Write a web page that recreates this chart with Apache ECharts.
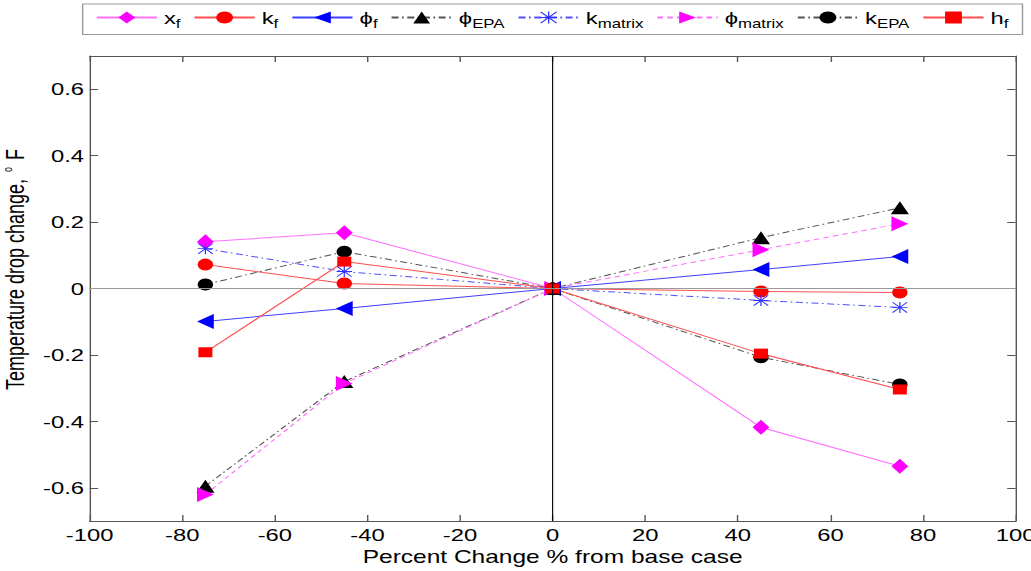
<!DOCTYPE html>
<html>
<head>
<meta charset="utf-8">
<script src="https://cdn.jsdelivr.net/npm/echarts@6/dist/echarts.min.js"></script>
<style>
html,body{margin:0;padding:0;overflow:hidden;background:#fff;}
#c{width:736px;height:571px;transform:scaleX(1.40082);transform-origin:0 0;}
</style>
</head>
<body>
<div id="c"></div>
<script>
// ---- data ----
const xValues = [-75, -45, 0, 45, 75];
const x_f        = [0.141, 0.168, 0, -0.418, -0.535];
const k_f        = [0.072, 0.015, 0, -0.009, -0.012];
const phi_f      = [-0.099, -0.060, 0, 0.057, 0.096];
const phi_EPA    = [-0.595, -0.280, 0, 0.153, 0.243];
const k_matrix   = [0.120, 0.051, 0, -0.036, -0.057];
const phi_matrix = [-0.620, -0.286, 0, 0.117, 0.195];
const k_EPA      = [0.012, 0.111, 0, -0.207, -0.289];
const h_f        = [-0.192, 0.081, 0, -0.196, -0.304];
const yTicks = [-0.6, -0.4, -0.2, 0, 0.2, 0.4, 0.6];
const xTicks = [-100, -80, -60, -40, -20, 0, 20, 40, 60, 80, 100];

const legendLabels = {
  'x_f': '{m|x}{s|f}',
  'k_f': '{m|k}{s|f}',
  'phi_f': '{m|\u03d5}{s|f}',
  'phi_EPA': '{m|\u03d5}{s|EPA}',
  'k_matrix': '{m|k}{s|matrix}',
  'phi_matrix': '{m|\u03d5}{s|matrix}',
  'k_EPA': '{m|k}{s|EPA}',
  'h_f': '{m|h}{s|f}'
};

const FONT = '"Liberation Sans", Arial, Helvetica, sans-serif';
const asterisk = 'path://M0 9.2H20V10.8H0Z M9.2 0H10.8V20H9.2Z M0 1.1L1.1 0L20 18.9L18.9 20Z M18.9 0L20 1.1L1.1 20L0 18.9Z';

function pts(arr){ return xValues.map((x,i)=>[x, arr[i]]); }

function mk(name, arr, symbol, size, rot, mcolor, lcolor, ltype){
  return {
    name: name, type: 'line', data: pts(arr),
    symbol: symbol, symbolSize: size, symbolRotate: rot,
    showAllSymbol: true,
    itemStyle: {color: mcolor, borderWidth: 0},
    lineStyle: {color: lcolor, width: 1, type: ltype},
    emphasis: {disabled: true},
    animation: false
  };
}

const dashDot = [5, 2.5, 1.2, 2.5];
const series = [
  {
    type: 'line', data: [], silent: true, animation: false,
    markLine: {
      silent: true, symbol: 'none', animation: false,
      label: {show: false},
      data: [
        {xAxis: 0, lineStyle: {color: '#000', width: 0.8, type: 'solid'}},
        {yAxis: 0, lineStyle: {color: '#999', width: 1, type: 'solid'}}
      ]
    }
  },
  mk('x_f', x_f, 'diamond', [12, 15], 0, '#ff00ff', '#ff70ff', 'solid'),
  mk('k_f', k_f, 'circle', [11, 12], 0, '#ff0000', '#ff5050', 'solid'),
  mk('phi_f', phi_f, 'triangle', [15, 12], 90, '#0000ff', '#4040ff', 'solid'),
  mk('phi_EPA', phi_EPA, 'triangle', [13, 13], 0, '#000000', '#555555', dashDot),
  mk('k_matrix', k_matrix, asterisk, [11, 11], 0, '#3030ff', '#5050ff', dashDot),
  mk('phi_matrix', phi_matrix, 'triangle', [15, 12], -90, '#ff00ff', '#ff70ff', [4, 3]),
  mk('k_EPA', k_EPA, 'circle', [11, 12], 0, '#000000', '#555555', dashDot),
  mk('h_f', h_f, 'rect', [10, 10], 0, '#ff0000', '#ff5050', 'solid')
];

const axisLineStyle = {color: '#555', width: 1};
const option = {
  backgroundColor: '#fff',
  animation: false,
  grid: {left: 64, right: 11, top: 56, bottom: 50, containLabel: false, outerBoundsMode: 'none'},
  legend: {
    data: Object.keys(legendLabels),
    left: 59, top: 4,
    orient: 'horizontal',
    itemWidth: 43, itemHeight: 15, itemGap: 9,
    padding: [5, 10, 5, 9],
    borderColor: '#999', borderWidth: 1,
    selectedMode: false,
    formatter: n => legendLabels[n],
    textStyle: {
      fontFamily: FONT, color: '#000',
      rich: {
        m: {fontSize: 17, fontFamily: FONT, color: '#000'},
        s: {fontSize: 12, fontFamily: FONT, color: '#000', padding: [12, 0, 0, 0]}
      }
    }
  },
  xAxis: [
    {
      type: 'value', min: -100, max: 100, interval: 20, position: 'bottom',
      axisLine: {show: true, onZero: false, lineStyle: axisLineStyle},
      axisTick: {show: true, inside: true, length: 6, lineStyle: {color: '#555'}},
      splitLine: {show: false},
      axisLabel: {fontFamily: FONT, fontSize: 17, color: '#000', margin: 5,
        formatter: v => String(xTicks[xTicks.indexOf(Math.round(v))] ?? v)},
      name: 'Percent Change % from base case',
      nameLocation: 'middle', nameGap: 25,
      nameTextStyle: {fontFamily: FONT, fontSize: 17.5, color: '#000'}
    },
    {
      type: 'value', min: -100, max: 100, interval: 20, position: 'top',
      axisLine: {show: true, onZero: false, lineStyle: axisLineStyle},
      axisTick: {show: true, inside: true, length: 6, lineStyle: {color: '#555'}},
      splitLine: {show: false}, axisLabel: {show: false}
    }
  ],
  yAxis: [
    {
      type: 'value', min: -0.7, max: 0.7, position: 'left',
      axisLine: {show: true, onZero: false, lineStyle: axisLineStyle},
      axisTick: {show: true, inside: true, length: 6, customValues: yTicks, lineStyle: {color: '#555'}},
      splitLine: {show: false},
      axisLabel: {fontFamily: FONT, fontSize: 17, color: '#000', margin: 4,
        customValues: yTicks, formatter: v => String(Math.round(v * 10) / 10)},
      name: 'Temperature drop change, {sup|o} F',
      nameLocation: 'middle', nameGap: 38,
      nameTextStyle: {fontFamily: FONT, fontSize: 18, color: '#000', padding: [0, 0, 0, 38],
        rich: {sup: {fontSize: 9, fontFamily: FONT, color: '#000', padding: [0, 2, 11, 2]}}}
    },
    {
      type: 'value', min: -0.7, max: 0.7, position: 'right',
      axisLine: {show: true, onZero: false, lineStyle: axisLineStyle},
      axisTick: {show: true, inside: true, length: 6, customValues: yTicks, lineStyle: {color: '#555'}},
      splitLine: {show: false}, axisLabel: {show: false}
    }
  ],
  series: series
};

const chart = echarts.init(document.getElementById('c'), null, {renderer: 'svg'});
chart.setOption(option);
</script>
</body>
</html>
